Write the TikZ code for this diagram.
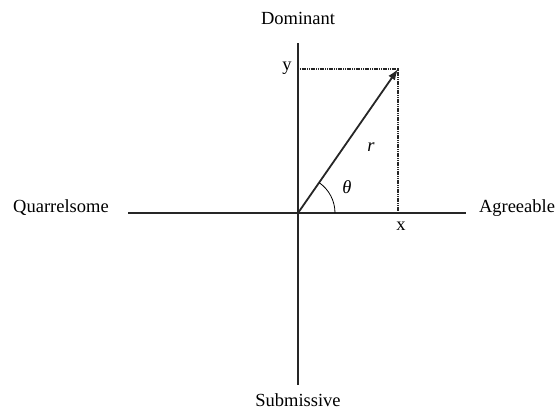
\documentclass[tikz,border=0pt]{standalone}
\usepackage{fontspec}
\setmainfont{Liberation Serif}
\usetikzlibrary{arrows.meta}
\begin{document}
\begin{tikzpicture}[x=1pt,y=-1pt,
  axis/.style={line width=1.8pt,black!85},
  vec/.style={line width=1.8pt,black!85,-{Latex[length=11pt,width=8pt]}},
  guide/.style={line width=1.8pt,black!85,dash pattern=on 1.2pt off 0.6pt},
  lbl/.style={font=\fontsize{18.5}{22}\selectfont,inner sep=0pt}]
\useasboundingbox (0,0) rectangle (556,410);
\coordinate (O) at (298,213);
\coordinate (L) at (128,213);
\coordinate (R) at (466,213);
\coordinate (T) at (298,43);
\coordinate (B) at (298,385);
\coordinate (P) at (398,69);
\coordinate (Py) at (298,69);
\coordinate (Px) at (398,213);
\draw[axis] (L) -- (R);
\draw[axis] (T) -- (B);
\draw[guide] (Py) -- (P) -- (Px);
\draw[vec] (O) -- (P);
\draw[line width=0.8pt] (335,213) arc[start angle=0,end angle=-55.2,radius=37];
\node[lbl] (dom) at (298,18) {Dominant};
\node[lbl] (sub) at (298,400) {Submissive};
\node[lbl,anchor=base] (qua) at (61,212) {Quarrelsome};
\node[lbl,anchor=base] (agr) at (517,212) {Agreeable};
\node[lbl] (ly) at (287,68) {y};
\node[lbl] (lx) at (401,226) {x};
\node[lbl] (lr) at (371,147) {\itshape r};
\node[lbl] (lt) at (347,187) {\itshape θ};
\end{tikzpicture}
\end{document}
